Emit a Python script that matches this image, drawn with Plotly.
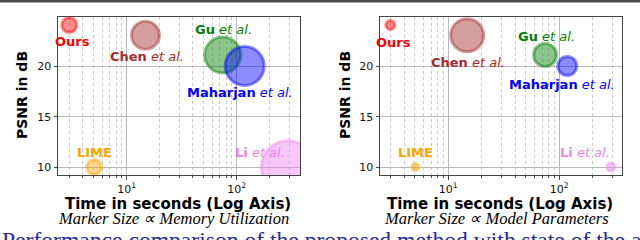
import numpy as np
import plotly.graph_objects as go

# ---------------- data ----------------
methods = ["Ours", "Chen", "Gu", "Maharjan", "LIME", "Li"]
label_text = ["<b>Ours</b>", "<b>Chen</b> <i>et al.</i>", "<b>Gu</b> <i>et al.</i>",
              "<b>Maharjan</b> <i>et al.</i>", "<b>LIME</b>", "<b>Li</b> <i>et al.</i>"]
time_s = [3.0, 14.8, 74.5, 118, 5.05, 292]
psnr_db = [24.08, 23.08, 21.12, 20.03, 10.03, 10.03]
memory_util = [2.25, 7.8, 13.0, 15.2, 2.25, 28.0]       # relative units
model_params = [0.8, 10.9, 5.3, 3.6, 0.5, 0.64]         # relative units
colors_rgb = [(255, 0, 0), (165, 42, 42), (0, 128, 0), (0, 0, 255), (255, 165, 0), (238, 130, 238)]
y_ticks = [10, 15, 20]
x_ticks = [10, 100]
x_tick_text = ["10<sup>1</sup>", "10<sup>2</sup>"]

# ---------------- styling ----------------
W, H = 640, 240
FONT = "DejaVu Sans"
SCALE = 10.0  # diameter px per sqrt(unit)
alpha_fill = 0.45

def rgba(c, a):
    return f"rgba({c[0]},{c[1]},{c[2]},{a})"

fig = go.Figure()

panels = [
    dict(xa="x", ya="y", vals=memory_util,
         offs=[(3, -16), (2, -21), (1, 26), (-5, -26), (0, 15), (-28, 15)]),
    dict(xa="x2", ya="y2", vals=model_params,
         offs=[(3, -17), (1, -27), (1, 19), (-5, -18), (0, 15), (-26, 15)]),
]

annotations = []
for p in panels:
    for i, m in enumerate(methods):
        d = SCALE * np.sqrt(p["vals"][i])
        fig.add_trace(go.Scatter(
            x=[time_s[i]], y=[psnr_db[i]], xaxis=p["xa"], yaxis=p["ya"],
            mode="markers", showlegend=False, hoverinfo="skip",
            marker=dict(size=d, color=rgba(colors_rgb[i], alpha_fill),
                        line=dict(color=rgba(colors_rgb[i], alpha_fill), width=3)),
        ))
        dx, dy = p["offs"][i]
        annotations.append(dict(
            x=np.log10(time_s[i]), y=psnr_db[i], xref=p["xa"], yref=p["ya"],
            text=label_text[i], showarrow=False, xshift=dx, yshift=dy,
            font=dict(family=FONT, size=13, color=rgba(colors_rgb[i], 1)),
            xanchor="center", yanchor="middle",
        ))

def px_x(px):
    return px / W

def px_y(py):
    return 1 - py / H

xdoms = [[px_x(58), px_x(300)], [px_x(380), px_x(622)]]
ydom = [px_y(175), px_y(17)]
xranges = [[0.375, 2.575], [0.385, 2.565]]

axis_common = dict(
    showline=True, linecolor="#444", linewidth=1, mirror=True,
    ticks="outside", ticklen=3.5, tickcolor="#444", tickwidth=1,
    tickfont=dict(family=FONT, size=11, color="#111"),
    gridcolor="#b8b8b8", gridwidth=1, zeroline=False,
)

for k, suffix in enumerate(["", "2"]):
    fig.layout["xaxis" + suffix] = dict(
        axis_common, type="log", domain=xdoms[k], range=xranges[k],
        anchor="y" + suffix, tickvals=x_ticks, ticktext=x_tick_text,
        minor=dict(showgrid=True, griddash="dot", gridcolor="#c8c8c8",
                   ticks="outside", ticklen=2, tickcolor="#444",
                   tickvals=[v * s for s in (1, 10, 100) for v in range(2, 10)]),
    )
    fig.layout["yaxis" + suffix] = dict(
        axis_common, domain=ydom, range=[9.25, 24.88], anchor="x" + suffix,
        tickvals=y_ticks,
    )

# axis titles & subtitles
for cx, ytx in [(178, 22), (500, 345)]:
    annotations.append(dict(x=px_x(cx), y=px_y(204), xref="paper", yref="paper",
                            text="<b>Time in seconds (Log Axis)</b>", showarrow=False,
                            font=dict(family=FONT, size=15, color="#000"),
                            xanchor="center", yanchor="middle"))
    annotations.append(dict(x=px_x(ytx), y=px_y(95), xref="paper", yref="paper",
                            text="<b>PSNR in dB</b>", showarrow=False, textangle=-90,
                            font=dict(family=FONT, size=14, color="#000"),
                            xanchor="center", yanchor="middle"))

annotations.append(dict(x=px_x(173), y=px_y(218), xref="paper", yref="paper",
                        text="<i>Marker Size ∝ Memory Utilization</i>", showarrow=False,
                        font=dict(family="Liberation Serif", size=16.5, color="#000"),
                        xanchor="center", yanchor="middle"))
annotations.append(dict(x=px_x(496), y=px_y(218), xref="paper", yref="paper",
                        text="<i>Marker Size ∝ Model Parameters</i>", showarrow=False,
                        font=dict(family="Liberation Serif", size=16.5, color="#000"),
                        xanchor="center", yanchor="middle"))

# caption fragment at bottom
annotations.append(dict(x=0, y=px_y(224.5), xref="paper", yref="paper",
                        text="Performance comparison of the proposed method with state of the art",
                        showarrow=False, xanchor="left", yanchor="top",
                        font=dict(family="Liberation Serif", size=23.6, color="#2626a0")))

fig.update_layout(
    width=W, height=H, margin=dict(l=0, r=0, t=0, b=0),
    paper_bgcolor="white", plot_bgcolor="white",
    annotations=annotations,
    shapes=[dict(type="rect", xref="paper", yref="paper", x0=-0.05, x1=1.05,
                 y0=px_y(2.5), y1=1.05, fillcolor="#4a4a4a",
                 line=dict(width=0), layer="above")],
)

fig.write_html("out.html", config={"displayModeBar": False},
               post_script="document.body.style.margin='0px';")
